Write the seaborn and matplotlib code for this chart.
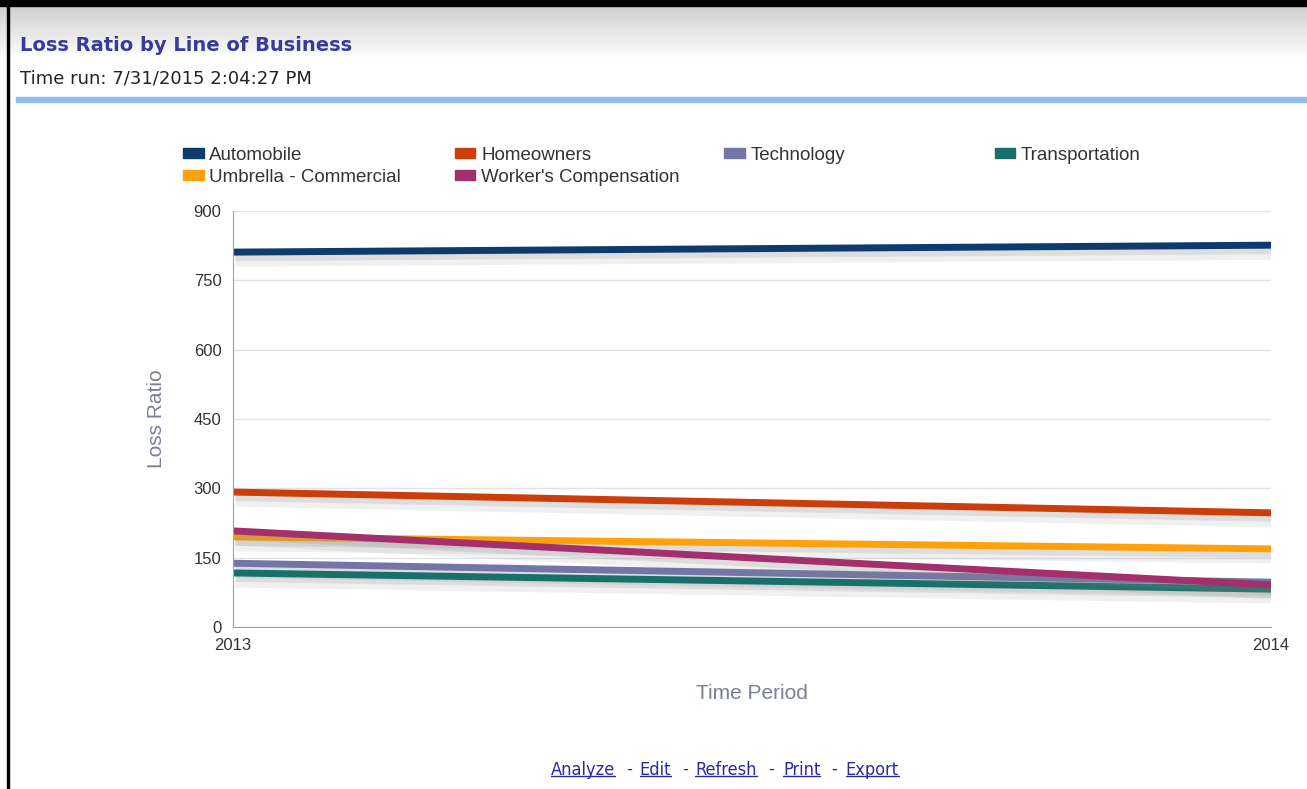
import matplotlib
matplotlib.use("Agg")
import matplotlib.pyplot as plt
import matplotlib.patheffects as pe
from matplotlib.patches import Rectangle, Patch
from matplotlib.lines import Line2D
import numpy as np
import pandas as pd
import seaborn as sns

periods = [2013, 2014]
series_names = ["Automobile", "Homeowners", "Technology", "Transportation",
                "Umbrella - Commercial", "Worker's Compensation"]
automobile = [811, 826]
homeowners = [292, 247]
technology = [138, 97]
transportation = [117, 82]
umbrella = [195, 169]
workers = [208, 91]
colors = ["#0d3b6e", "#cc3d0c", "#7474a6", "#17706a", "#ffa10c", "#a3306c"]
yticks = [0, 150, 300, 450, 600, 750, 900]

values = [automobile, homeowners, technology, transportation, umbrella, workers]
df = pd.DataFrame({
    "Time Period": np.tile(periods, len(series_names)),
    "Loss Ratio": np.concatenate(values),
    "Series": np.repeat(series_names, len(periods)),
})

sns.set_style("white")
plt.rcParams["font.family"] = ["Liberation Sans", "DejaVu Sans"]

fig = plt.figure(figsize=(13.07, 7.89), dpi=100)
ax = fig.add_axes([0.178, 0.2053, 0.7945, 0.5273])

# header gradient
grad = np.linspace(0.80, 1.0, 50).reshape(-1, 1)
hax = fig.add_axes([0.0, 0.925, 1.0, 0.07])
hax.imshow(np.dstack([grad, grad, grad]), aspect="auto", extent=[0, 1, 0, 1])
hax.axis("off")
fig.patches.append(Rectangle((0.0055, 0.0), 0.0015, 0.995, transform=fig.transFigure, color="black"))
fig.patches.append(Rectangle((0.0, 0.993), 1.0, 0.007, transform=fig.transFigure, color="black"))
fig.patches.append(Rectangle((0.012, 0.871), 0.988, 0.006, transform=fig.transFigure, color="#8cc0f0"))

fig.text(0.015, 0.942, "Loss Ratio by Line of Business", fontsize=14, fontweight="bold",
         color="#3a3a9a", family=["DejaVu Sans"], va="center")
fig.text(0.015, 0.901, "Time run: 7/31/2015 2:04:27 PM", fontsize=13, color="#222222",
         family=["DejaVu Sans"], va="center")

sns.lineplot(data=df, x="Time Period", y="Loss Ratio", hue="Series", palette=colors,
             hue_order=series_names, ax=ax, linewidth=5.0, legend=False)
for ln in ax.get_lines():
    ln.set_path_effects([
        pe.SimpleLineShadow(offset=(2, -6), shadow_color="#888888", alpha=0.12, linewidth=9),
        pe.SimpleLineShadow(offset=(2, -4), shadow_color="#888888", alpha=0.18),
        pe.Normal()])
    ln.set_solid_capstyle("butt")

ax.set_xlim(2013, 2014)
ax.set_ylim(0, 900)
ax.set_yticks(yticks)
ax.set_xticks(periods)
ax.set_xticklabels([str(p) for p in periods])
ax.yaxis.grid(True, color="#e2e2e8", linewidth=1)
ax.xaxis.grid(False)
for s in ["top", "right"]:
    ax.spines[s].set_visible(False)
ax.spines["left"].set_color("#9aa0c0")
ax.spines["bottom"].set_color("#9aa0c0")
ax.tick_params(axis="both", labelsize=12, colors="#333333", length=0, pad=8)
ax.set_xlabel("Time Period", fontsize=15, color="#7a7f9a", labelpad=22)
ax.set_ylabel("Loss Ratio", fontsize=15, color="#7a7f9a", labelpad=20)

# legend: four equally spaced columns, filled row-wise
columns = [[0, 4], [1, 5], [2], [3]]
col_x = [0.140, 0.348, 0.554, 0.761]
for idxs, x in zip(columns, col_x):
    handles = [Patch(facecolor=colors[i], edgecolor=colors[i]) for i in idxs]
    labels = [series_names[i] for i in idxs]
    leg = fig.legend(handles, labels, loc="upper left", bbox_to_anchor=(x, 0.814),
                     ncol=1, frameon=False, fontsize=13.5, handlelength=1.1, handleheight=0.45,
                     handletextpad=0.3, labelspacing=0.28, borderpad=0, borderaxespad=0)
    for t in leg.get_texts():
        t.set_color("#333333")

links = [("Analyze", 0.4215), ("Edit", 0.4895), ("Refresh", 0.532), ("Print", 0.599), ("Export", 0.647)]
link_texts = []
for name, x in links:
    t = fig.text(x, 0.024, name, fontsize=13, color="#2a2aa0", family=["DejaVu Sans"],
                 va="center", ha="left", fontstretch="condensed")
    link_texts.append(t)
for x in [0.479, 0.522, 0.588, 0.636]:
    fig.text(x, 0.024, "-", fontsize=13, color="#333333", va="center")

fig.canvas.draw()
r = fig.canvas.get_renderer()
inv = fig.transFigure.inverted()
for t in link_texts:
    bb = t.get_window_extent(r)
    (x0, y0), (x1, y1) = inv.transform([(bb.x0, bb.y0), (bb.x1, bb.y1)])
    fig.add_artist(Line2D([x0, x1], [y0 + 0.004, y0 + 0.004], transform=fig.transFigure,
                          color="#2a2aa0", linewidth=1))

fig.savefig("out.png", dpi=100, facecolor="white")
